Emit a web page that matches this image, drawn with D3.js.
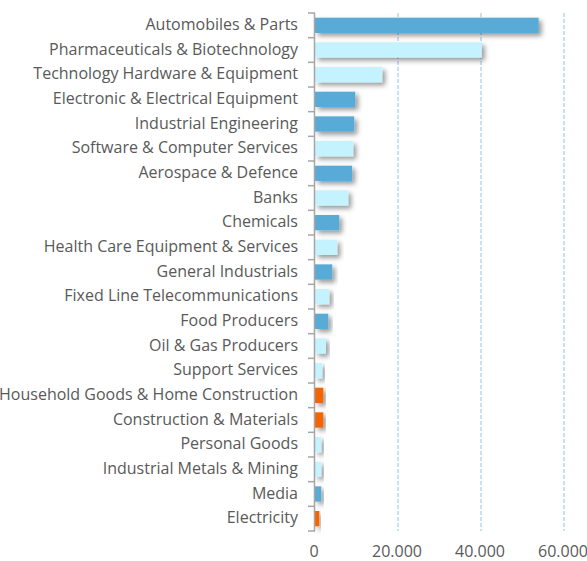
<!DOCTYPE html>
<html>
<head>
<meta charset="utf-8">
<script src="https://cdn.jsdelivr.net/npm/d3@7"></script>
<style>
  body { margin: 0; background: #fff; }
  svg { display: block; }
  .lbl text { font-family: "Open Sans", sans-serif; fill: #595959; }
</style>
</head>
<body>
<svg id="chart" width="587" height="561"></svg>
<script>
const sectors = [
    "Automobiles & Parts", "Pharmaceuticals & Biotechnology", "Technology Hardware & Equipment",
    "Electronic & Electrical Equipment", "Industrial Engineering", "Software & Computer Services",
    "Aerospace & Defence", "Banks", "Chemicals", "Health Care Equipment & Services",
    "General Industrials", "Fixed Line Telecommunications", "Food Producers", "Oil & Gas Producers",
    "Support Services", "Household Goods & Home Construction", "Construction & Materials",
    "Personal Goods", "Industrial Metals & Mining", "Media", "Electricity"
];
const values = [
    53900, 40200, 16200, 9700, 9450, 9200, 8950, 8000, 5850, 5350,
    4150, 3450, 3200, 2650, 1750, 2000, 2000, 1500, 1500, 1500, 1050
];
// colour group per sector: 0 = dark blue, 1 = light cyan, 2 = orange
const groups = [0, 1, 1, 0, 0, 1, 0, 1, 0, 1, 0, 1, 0, 1, 1, 2, 2, 1, 1, 0, 2];
const xTicks = [0, 20000, 40000, 60000];

const colors = ['#58abd6', '#c4f2fe', '#f26500'];

const margin = { top: 13, right: 23, bottom: 30, left: 315 };
const svg = d3.select('#chart');
const W = 587, H = 561;

const x = d3.scaleLinear()
    .domain([0, 60000])
    .range([margin.left, W - margin.right]);

const y = d3.scaleBand()
    .domain(sectors)
    .range([margin.top, H - margin.bottom])
    .paddingInner(0.38)
    .paddingOuter(0.19);

const defs = svg.append('defs');
const f = defs.append('filter')
    .attr('id', 'shadow')
    .attr('x', '-20%').attr('y', '-50%')
    .attr('width', '150%').attr('height', '250%');
f.append('feDropShadow')
    .attr('dx', 3).attr('dy', 3)
    .attr('stdDeviation', 2.5)
    .attr('flood-color', '#000')
    .attr('flood-opacity', 0.4);

// dashed gridlines
svg.append('g')
    .selectAll('line')
    .data(xTicks.slice(1))
    .join('line')
    .attr('x1', d => x(d)).attr('x2', d => x(d))
    .attr('y1', margin.top).attr('y2', H - margin.bottom)
    .attr('stroke', '#b4d6f6')
    .attr('stroke-width', 1.5)
    .attr('stroke-dasharray', '4,2');

// bars
svg.append('g')
    .selectAll('rect')
    .data(sectors)
    .join('rect')
    .attr('x', x(0))
    .attr('y', d => y(d))
    .attr('width', (d, i) => x(values[i]) - x(0))
    .attr('height', y.bandwidth())
    .attr('fill', (d, i) => colors[groups[i]])
    .attr('filter', 'url(#shadow)');

// y axis: line + boundary ticks
const step = y.step();
const yAxis = svg.append('g');
yAxis.append('line')
    .attr('x1', margin.left - 0.5).attr('x2', margin.left - 0.5)
    .attr('y1', margin.top).attr('y2', H - margin.bottom)
    .attr('stroke', '#a6a6a6').attr('stroke-width', 1.5);
yAxis.selectAll('.tk')
    .data(d3.range(sectors.length + 1))
    .join('line')
    .attr('class', 'tk')
    .attr('x1', margin.left - 7).attr('x2', margin.left)
    .attr('y1', i => margin.top + i * step)
    .attr('y2', i => margin.top + i * step)
    .attr('stroke', '#a6a6a6').attr('stroke-width', 1.5);

// category labels
svg.append('g')
    .attr('class', 'lbl')
    .selectAll('text')
    .data(sectors)
    .join('text')
    .attr('x', margin.left - 17)
    .attr('y', d => y(d) + y.bandwidth() / 2 - 1)
    .attr('dy', '0.35em')
    .attr('text-anchor', 'end')
    .style('font-size', '16px')
    .text(d => d);

// x axis labels
const fmt = d => d3.format(',')(d).replace(/,/g, '.');
svg.append('g')
    .attr('class', 'lbl')
    .selectAll('text')
    .data(xTicks)
    .join('text')
    .attr('x', d => x(d) - 1)
    .attr('y', 551)
    .attr('dy', '0.35em')
    .attr('text-anchor', 'middle')
    .style('font-size', '16px')
    .text(fmt);
</script>
</body>
</html>
